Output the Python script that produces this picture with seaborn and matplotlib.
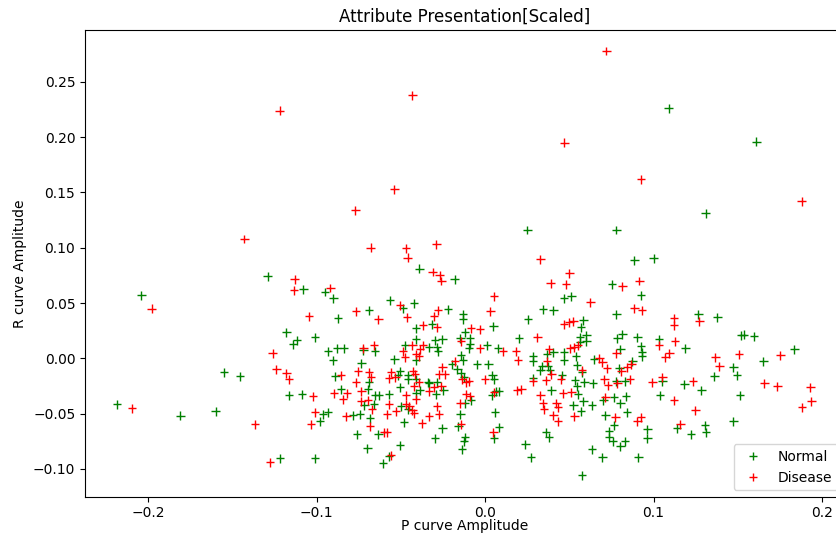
import matplotlib
matplotlib.use("Agg")
import matplotlib.pyplot as plt
import numpy as np
import pandas as pd
import seaborn as sns

# P / R curve amplitudes (scaled) for the two groups
normal_p = [
    -0.039, -0.018, -0.129, 0.109, 0.161, 0.131, 0.025, 0.078, 0.0885, 0.100,
    0.0754, -0.204, -0.155, -0.2185, -0.181, -0.160, -0.108, -0.095, -0.090, -0.0873,
    -0.0689, -0.118, -0.1116, -0.114, -0.101, -0.0932, -0.0879, -0.0837, -0.0724, -0.0653,
    -0.0903, -0.0736, -0.1455, -0.089, -0.0689, -0.1164, -0.1087, -0.0855, -0.0695, -0.0653,
    -0.063, -0.0718, -0.0659, -0.0962, -0.0932, -0.098, -0.0784, -0.0742, -0.0683, -0.076,
    -0.0635, -0.070, -0.1217, -0.101, -0.0606, -0.0564, -0.0487, -0.0422, -0.022, -0.0131,
    -0.0131, 0.0255, -0.0315, -0.041, 0.0048, -0.0119, 0.0202, -0.041, -0.0297, -0.0255,
    -0.0148, -0.0089, -0.0089, -0.0095, 0.0012, 0.0077, 0.0285, 0.0285, -0.0475, -0.0333,
    -0.0285, -0.0279, -0.054, -0.041, -0.0143, -0.0131, -0.0196, -0.0048, 0.0018, -0.0166,
    -0.0143, -0.0505, -0.0517, -0.0457, -0.041, -0.0457, 0.0042, 0.0053, -0.0125, -0.0338,
    -0.0285, 0.0285, -0.057, -0.0505, -0.041, -0.0386, -0.0333, -0.0249, -0.0291, -0.0499,
    -0.0457, -0.0481, -0.0255, -0.0505, -0.057, -0.0297, -0.0083, -0.0119, -0.0148, -0.016,
    -0.0119, -0.0125, -0.0137, 0.0042, 0.0065, 0.0083, 0.0059, 0.0083, 0.0053, 0.0238,
    0.0273, 0.0469, 0.0511, 0.0926, 0.0344, 0.0404, 0.0778, 0.0582, 0.057, 0.0564,
    0.060, 0.060, 0.0564, 0.0814, 0.0784, 0.0903, 0.1033, 0.0926, 0.0932, 0.0932,
    0.0404, 0.0368, 0.0469, 0.0469, 0.054, 0.0802, 0.0338, 0.0327, 0.0374, 0.0386,
    0.0546, 0.0576, 0.0647, 0.0796, 0.0873, 0.0457, 0.0534, 0.0588, 0.0641, 0.0778,
    0.0831, 0.1051, 0.0392, 0.0552, 0.0546, 0.1182, 0.1039, 0.0766, 0.0837, 0.0701,
    0.0802, 0.0582, 0.0523, 0.0635, 0.057, 0.0713, 0.0843, 0.0766, 0.0736, 0.0736,
    0.076, 0.0831, 0.0802, 0.0962, 0.0962, 0.114, 0.0362, 0.038, 0.0635, 0.0695,
    0.0909, 0.0576, 0.1265, 0.1378, 0.152, 0.1535, 0.1597, 0.1188, 0.1835, 0.1651,
    0.1473, 0.1496, 0.136, 0.1283, 0.1514, 0.1306, 0.1312, 0.1223, 0.1473,
]
normal_r = [
    0.081, 0.0716, 0.074, 0.226, 0.196, 0.131, 0.116, 0.116, 0.0888, 0.0906,
    0.067, 0.057, -0.0127, -0.0417, -0.052, -0.048, 0.0625, 0.060, 0.0543, 0.0362,
    0.0435, 0.0236, 0.0163, 0.0127, 0.019, 0.0063, 0.009, 0.009, 0.0072, 0.0063,
    -0.0018, -0.0045, -0.0163, -0.0163, -0.0217, -0.0335, -0.0326, -0.0281, -0.0281, -0.0335,
    -0.0335, -0.0426, -0.0417, -0.0507, -0.0489, -0.057, -0.0516, -0.0507, -0.0543, -0.0688,
    -0.0688, -0.0815, -0.0906, -0.0906, -0.0951, 0.0525, 0.0453, 0.0498, 0.0444, 0.0399,
    0.0353, 0.0353, 0.0308, 0.0272, 0.029, 0.0236, 0.0181, 0.0172, 0.0163, 0.0172,
    0.0181, 0.0181, 0.0127, 0.009, 0.0118, 0.009, 0.0018, -0.0027, 0.0118, 0.010,
    0.010, 0.0063, -0.0009, -0.0018, 0.0027, -0.0018, -0.0054, -0.0054, -0.0054, -0.010,
    -0.0136, -0.0118, -0.0154, -0.0154, -0.019, -0.019, -0.0154, -0.019, -0.0172, -0.0217,
    -0.0217, -0.0178, -0.0326, -0.0263, -0.0317, -0.029, -0.0226, -0.029, -0.0326, -0.0435,
    -0.0462, -0.058, -0.0634, -0.0788, -0.0888, -0.0725, -0.038, -0.0408, -0.0507, -0.0616,
    -0.0716, -0.0752, -0.0824, -0.0335, -0.0299, -0.0299, -0.0489, -0.0625, -0.0725, -0.0779,
    -0.0897, 0.0543, 0.0562, 0.057, 0.0444, 0.0435, 0.0399, 0.0344, 0.0281, 0.019,
    0.0208, 0.0154, 0.0145, 0.0217, 0.0181, 0.019, 0.0172, 0.0109, 0.0054, 0.0018,
    0.0054, 0.0036, 0.0054, -0.0018, 0.0018, 0.0082, -0.0072, -0.0109, -0.0072, -0.0109,
    -0.0063, -0.0127, -0.0009, -0.0091, -0.0027, -0.0154, -0.0199, -0.0217, -0.0226, -0.0208,
    -0.0208, -0.0208, -0.029, -0.0326, -0.0254, -0.0235, -0.0335, -0.0353, -0.0344, -0.038,
    -0.0408, -0.039, -0.0426, -0.0426, -0.048, -0.0516, -0.0489, -0.0607, -0.0661, -0.0716,
    -0.0752, -0.0752, -0.0797, -0.0643, -0.0725, -0.0634, -0.067, -0.0716, -0.0824, -0.0897,
    -0.0897, -0.106, 0.0399, 0.0371, 0.0208, 0.0215, 0.0199, 0.009, 0.0082, -0.0027,
    -0.0082, -0.0154, -0.0163, -0.029, -0.0335, -0.0607, -0.067, -0.0688, -0.057,
]

disease_p = [
    -0.0433, -0.122, -0.054, -0.077, -0.143, -0.068, -0.047, -0.029, -0.046, -0.031,
    -0.027, -0.026, -0.113, -0.092, 0.0719, 0.047, 0.0926, 0.188, 0.0327, 0.050,
    0.039, 0.048, 0.0814, 0.0915, -0.198, -0.2096, -0.1134, -0.1045, -0.0766, -0.0635,
    -0.126, -0.0724, -0.0659, -0.124, -0.118, -0.1164, -0.0855, -0.0754, -0.0689, -0.0677,
    -0.0766, -0.1021, -0.0897, -0.082, -0.0843, -0.0736, -0.0736, -0.0695, -0.0671, -0.101,
    -0.1033, -0.1366, -0.0825, -0.0683, -0.060, -0.1277, -0.0505, -0.0463, 0.0053, -0.0279,
    -0.0303, 0.003, -0.0368, -0.0285, -0.0083, -0.003, -0.0143, -0.003, 0.0107, 0.0184,
    0.0196, -0.0433, -0.0368, -0.0386, -0.0487, -0.0475, -0.041, -0.0392, -0.0178, -0.0255,
    -0.0273, -0.0238, -0.0558, -0.057, -0.0534, -0.0428, -0.0416, -0.0392, 0.0, -0.0137,
    -0.0113, -0.0095, 0.0285, -0.0469, -0.0422, -0.041, -0.0333, -0.0303, -0.0261, -0.057,
    -0.0582, -0.0529, -0.0469, -0.0451, -0.0433, -0.0422, -0.0333, -0.0374, -0.0273, -0.0285,
    -0.0582, -0.0558, -0.0113, -0.0089, -0.0148, -0.0143, 0.0048, 0.019, 0.0214, 0.0053,
    0.0624, 0.0885, 0.0932, 0.0469, 0.0499, 0.0523, 0.1122, 0.1122, 0.0309, 0.1033,
    0.1128, 0.0505, 0.0529, 0.0552, 0.038, 0.0778, 0.1093, 0.1069, 0.0368, 0.0392,
    0.0576, 0.0677, 0.0695, 0.0724, 0.0808, 0.0843, 0.0867, 0.0451, 0.0362, 0.0707,
    0.0861, 0.1051, 0.0992, 0.0327, 0.0463, 0.0511, 0.073, 0.0784, 0.0713, 0.1122,
    0.0344, 0.035, 0.0422, 0.0433, 0.0404, 0.0433, 0.0529, 0.0772, 0.0903, 0.0926,
    0.1158, 0.1271, 0.1366, 0.1508, 0.1752, 0.139, 0.1235, 0.1657, 0.1734, 0.193,
    0.1936, 0.1882, 0.1247,
]
disease_r = [
    0.238, 0.224, 0.153, 0.134, 0.108, 0.100, 0.0996, 0.103, 0.091, 0.078,
    0.075, 0.070, 0.0716, 0.0636, 0.278, 0.195, 0.162, 0.142, 0.0897, 0.077,
    0.068, 0.067, 0.065, 0.070, 0.045, -0.0453, 0.0616, 0.038, 0.0426, 0.0353,
    0.0045, 0.009, 0.0118, -0.010, -0.0136, -0.019, -0.0154, -0.0118, -0.0127, -0.0172,
    -0.0217, -0.0344, -0.0317, -0.0317, -0.0371, -0.0299, -0.039, -0.038, -0.0462, -0.0489,
    -0.0598, -0.0598, -0.0525, -0.0616, -0.067, -0.0942, 0.048, 0.0371, 0.0562, 0.0435,
    0.038, 0.0426, 0.0299, 0.0281, 0.0272, 0.0263, 0.0154, 0.009, 0.0063, 0.0063,
    -0.0018, 0.0118, 0.0118, 0.0082, 0.0063, 0.0009, 0.0036, 0.0018, -0.0027, -0.0082,
    -0.0145, -0.0145, -0.0127, -0.0181, -0.0172, -0.0118, -0.0145, -0.0217, -0.019, -0.019,
    -0.0217, -0.0208, -0.0208, -0.0335, -0.0254, -0.0371, -0.0299, -0.0263, -0.0254, -0.0417,
    -0.0507, -0.048, -0.0417, -0.0435, -0.0471, -0.0498, -0.0525, -0.0589, -0.0507, -0.0435,
    -0.067, -0.0879, -0.0326, -0.0344, -0.0408, -0.0598, -0.067, -0.029, -0.0281, -0.0308,
    0.0507, 0.0453, 0.0435, 0.0308, 0.0326, 0.0335, 0.0362, 0.0299, 0.019, 0.0118,
    0.0154, 0.009, 0.010, 0.0118, 0.0082, 0.0045, 0.0045, 0.0009, -0.0027, -0.0145,
    -0.0109, 0.0, -0.0036, -0.0091, -0.0118, -0.0082, -0.0054, -0.019, -0.0199, -0.019,
    -0.019, -0.0172, -0.0217, -0.0335, -0.0317, -0.0308, -0.0245, -0.0226, -0.0353, -0.038,
    -0.0408, -0.0462, -0.0408, -0.0444, -0.0516, -0.057, -0.0525, -0.0534, -0.057, -0.0534,
    -0.0598, 0.0335, 0.0009, 0.0036, 0.0027, -0.0072, -0.0208, -0.0226, -0.0254, -0.0263,
    -0.039, -0.0444, -0.0471,
]

groups = ["Normal", "Disease"]
colors = ["green", "red"]

df = pd.concat([
    pd.DataFrame({"P": normal_p, "R": normal_r, "group": groups[0]}),
    pd.DataFrame({"P": disease_p, "R": disease_r, "group": groups[1]}),
], ignore_index=True)

fig = plt.figure(figsize=(8.37, 5.38), dpi=100)
ax = fig.add_axes([0.1016, 0.0762, 0.908, 0.868])

sns.scatterplot(data=df, x="P", y="R", hue="group", hue_order=groups,
                palette=colors, marker="+", s=40, linewidth=1.0, ax=ax)

ax.set_xlim(-0.2375, 0.2137)
ax.set_ylim(-0.1255, 0.297)
ax.tick_params(axis="x", pad=3)
ax.set_title("Attribute Presentation[Scaled]", fontsize=12)
ax.set_xlabel("P curve Amplitude", fontsize=10, labelpad=-0.5)
ax.set_ylabel("R curve Amplitude", fontsize=10)
sns.move_legend(ax, "lower right", title=None)

fig.savefig("out.png", dpi=100)
